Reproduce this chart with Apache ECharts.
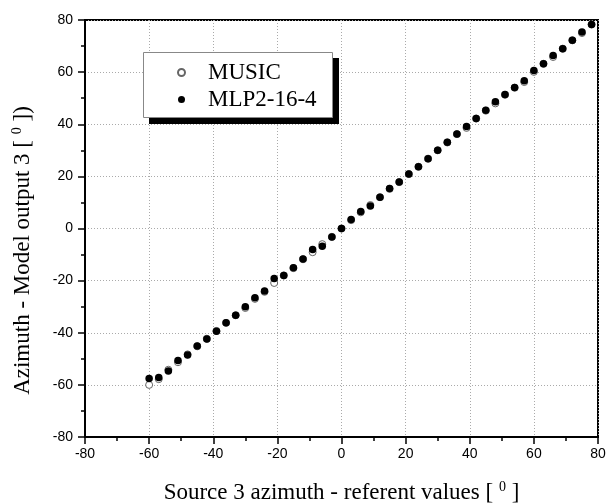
<!DOCTYPE html>
<html>
<head>
<meta charset="utf-8">
<script src="https://cdn.jsdelivr.net/npm/echarts@6/dist/echarts.min.js"></script>
<style>
  html, body { margin: 0; padding: 0; background: #fff; }
  #chart { width: 608px; height: 504px; }
</style>
</head>
<body>
<div id="chart"></div>
<script>
// source azimuth (referent values), degrees
var sourceAz = [-60, -57, -54, -51, -48, -45, -42, -39, -36, -33, -30, -27, -24, -21, -18, -15,
    -12, -9, -6, -3, 0, 3, 6, 9, 12, 15, 18, 21, 24, 27, 30, 33, 36, 39, 42, 45, 48, 51,
    54, 57, 60, 63, 66, 69, 72, 75, 78];
// estimated azimuth, MUSIC
var musicAz = [-60, -57.8, -54.2, -51.3, -48.3, -45.2, -42.3, -39.3, -36.2, -33.3, -30.5, -27, -24.3, -20.9, -18, -15.2,
    -11.8, -9.1, -6.0, -3.2, 0, 3.2, 6.2, 9.0, 12, 15.2, 17.8, 20.9, 23.7, 26.8, 30, 33, 36.2, 38.6, 42.2, 45.2, 48, 51.3,
    54, 56.2, 60.1, 63.2, 65.8, 69, 72.2, 75, 78.3];
// estimated azimuth, MLP2-16-4
var mlpAz = [-57.6, -57.2, -54.7, -50.6, -48.5, -45.1, -42.4, -39.4, -36.2, -33.3, -30, -26.6, -24, -19.2, -18, -15.1,
    -11.7, -8.1, -6.8, -3.3, 0, 3.5, 6.5, 8.6, 12, 15.3, 17.8, 20.9, 23.7, 26.8, 30, 33.1, 36.3, 39.1, 42.2, 45.4, 48.6, 51.4,
    54.1, 56.7, 60.6, 63.2, 66.4, 69, 72.2, 75.4, 78.3];

function pairs(xs, ys) {
    return xs.map(function (x, i) { return [x, ys[i]]; });
}

var chart = echarts.init(document.getElementById('chart'));

var axisCommon = {
    type: 'value',
    min: -80,
    max: 80,
    interval: 20,
    minorTick: { show: true, splitNumber: 2, length: 4, lineStyle: { color: '#000', width: 1.5 } },
    axisLine: { show: true, onZero: false, lineStyle: { color: '#000', width: 2 } },
    axisTick: { show: true, inside: false, length: 7, lineStyle: { color: '#000', width: 1.5 } },
    axisLabel: { color: '#000', fontFamily: 'Liberation Sans', fontSize: 14 },
    splitLine: { show: true, lineStyle: { color: '#aaa', type: [1, 2], width: 1 } },
    nameLocation: 'middle'
};

var nameStyle = {
    color: '#000', fontFamily: 'Liberation Serif', fontSize: 23,
    rich: { sup: { fontFamily: 'Liberation Serif', fontSize: 14, padding: [0, 0, 12, 0], color: '#000' } }
};

var option = {
    backgroundColor: '#fff',
    animation: false,
    grid: {
        left: 85, right: 10, top: 20, bottom: 67,
        outerBoundsMode: 'none',
        show: true, borderColor: '#000', borderWidth: 2, backgroundColor: 'transparent'
    },
    // legend frame with its drop shadow
    graphic: [
        { type: 'rect', z: 1, shape: { x: 149, y: 58, width: 190, height: 66 }, style: { fill: '#000' } },
        { type: 'rect', z: 1, shape: { x: 143.5, y: 52.5, width: 189, height: 65 }, style: { fill: '#fff', stroke: '#888', lineWidth: 1 } }
    ],
    legend: {
        orient: 'vertical',
        left: 143,
        top: 52,
        padding: [9, 16, 6, 34],
        itemGap: 4,
        itemWidth: 7,
        itemHeight: 7,
        textStyle: { color: '#000', fontFamily: 'Liberation Serif', fontSize: 23, padding: [0, 0, 0, 18] },
        data: ['MUSIC', 'MLP2-16-4']
    },
    xAxis: Object.assign({}, axisCommon, {
        name: 'Source 3 azimuth - referent values [ {sup|0} ]',
        nameGap: 43,
        nameTextStyle: nameStyle,
        axisLabel: Object.assign({}, axisCommon.axisLabel, { margin: 10 })
    }),
    yAxis: Object.assign({}, axisCommon, {
        name: 'Azimuth - Model output 3 [ {sup|0} ])',
        nameGap: 49,
        nameTextStyle: Object.assign({}, nameStyle, { padding: [0, 44, 0, 0] }),
        axisLabel: Object.assign({}, axisCommon.axisLabel, { margin: 12 })
    }),
    series: [
        {
            name: 'MUSIC',
            type: 'scatter',
            symbol: 'circle',
            symbolSize: 7,
            itemStyle: { color: '#fff', borderColor: '#666', borderWidth: 1, opacity: 1 },
            data: pairs(sourceAz, musicAz),
            z: 2
        },
        {
            name: 'MLP2-16-4',
            type: 'scatter',
            symbol: 'circle',
            symbolSize: 7.5,
            itemStyle: { color: '#000', opacity: 1 },
            data: pairs(sourceAz, mlpAz),
            z: 3
        }
    ]
};

chart.setOption(option);
</script>
</body>
</html>
